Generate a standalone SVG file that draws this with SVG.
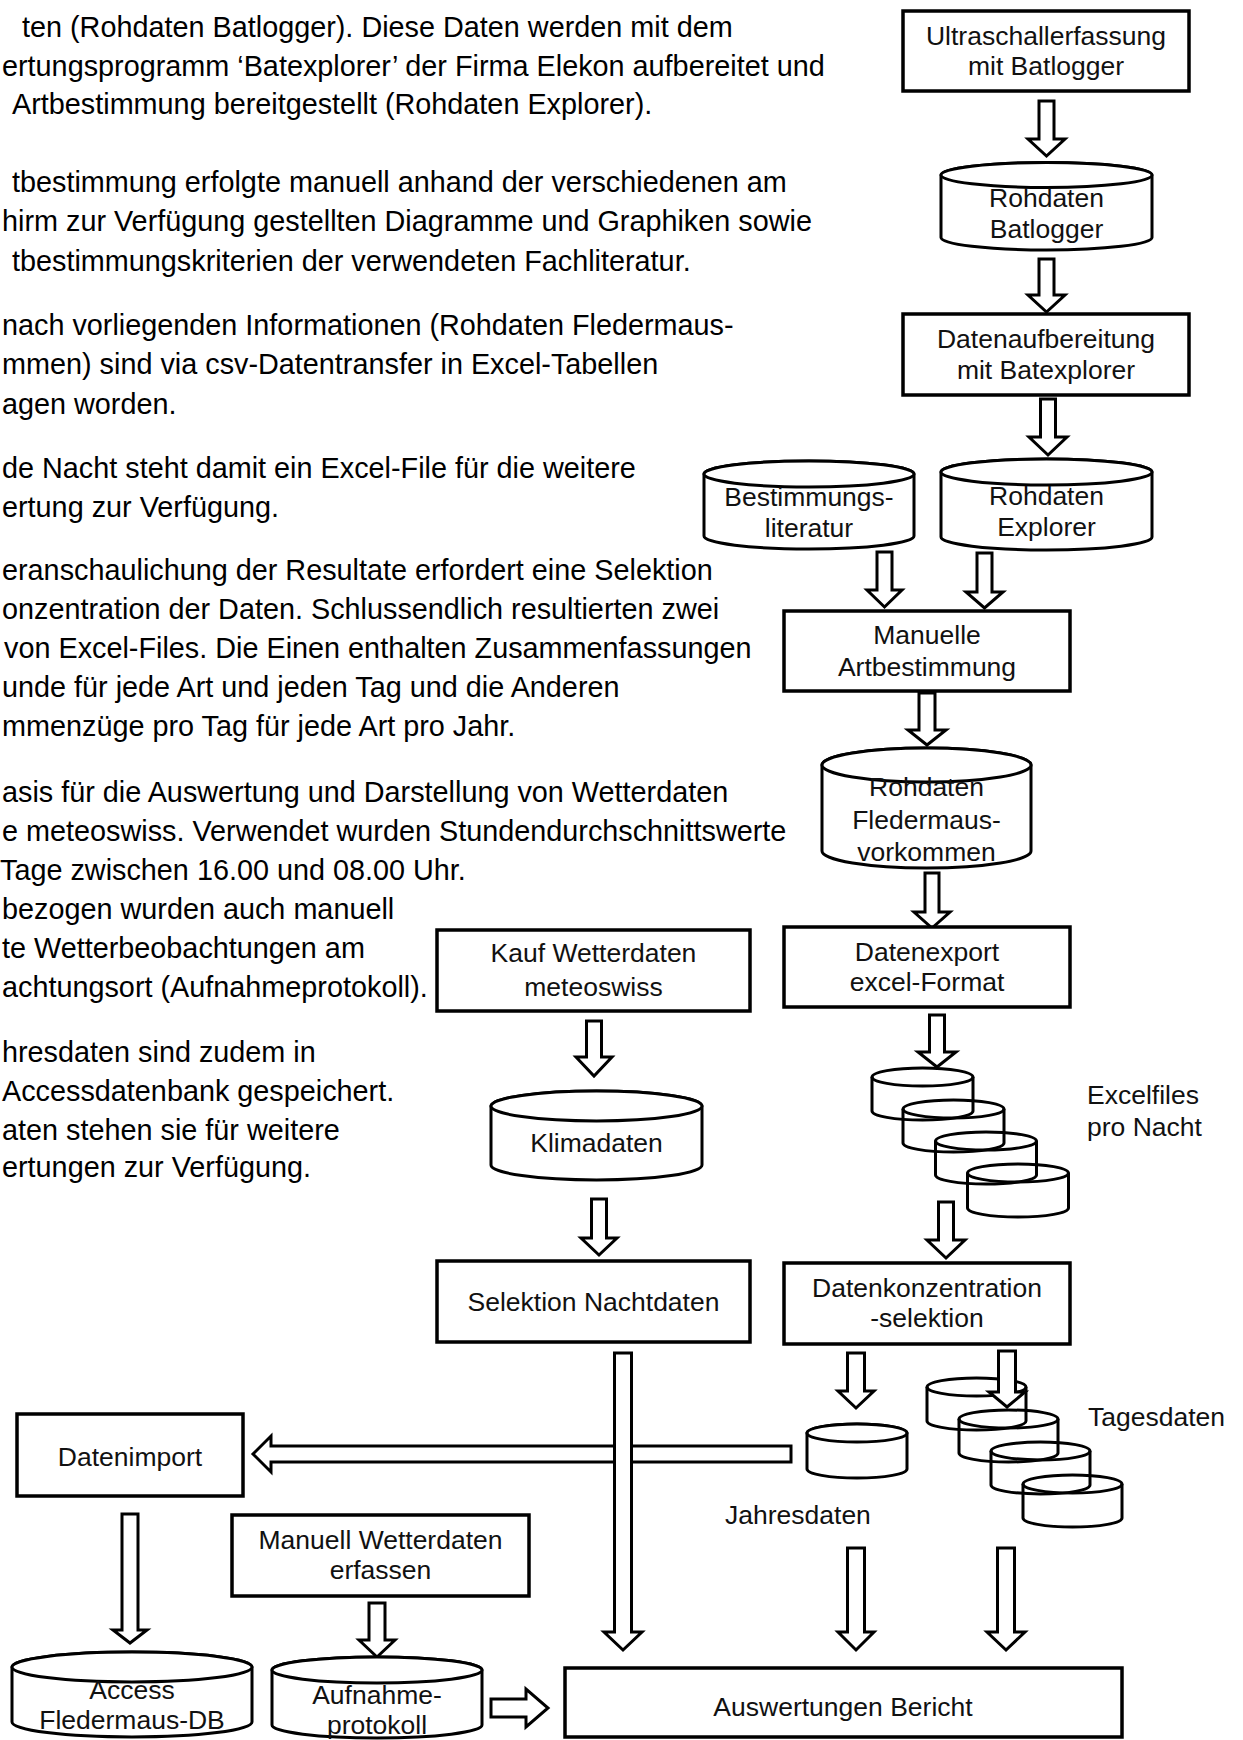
<svg xmlns="http://www.w3.org/2000/svg" width="1243" height="1740" viewBox="0 0 1243 1740">
<style>
.box{fill:#fff;stroke:#000;stroke-width:3.5}
.cyl{fill:#fff;stroke:#000;stroke-width:3}
.stk{fill:none;stroke:#000;stroke-width:3}
.arr{fill:#fff;stroke:#000;stroke-width:3;stroke-linejoin:miter}
.t{font-family:"Liberation Sans",Arial,sans-serif;font-size:26.5px;text-anchor:middle;fill:#111}
.l{font-family:"Liberation Sans",Arial,sans-serif;font-size:26.5px;fill:#111}
.p{font-family:"Liberation Sans",Arial,sans-serif;font-size:28.8px;fill:#000}
</style>
<rect width="1243" height="1740" fill="#fff"/>
<g id="description">
<text class="p" x="22" y="37">ten (Rohdaten Batlogger). Diese Daten werden mit dem</text>
<text class="p" x="2" y="76">ertungsprogramm ‘Batexplorer’ der Firma Elekon aufbereitet und</text>
<text class="p" x="12" y="114">Artbestimmung bereitgestellt (Rohdaten Explorer).</text>
<text class="p" x="12" y="192">tbestimmung erfolgte manuell anhand der verschiedenen am</text>
<text class="p" x="2" y="231">hirm zur Verfügung gestellten Diagramme und Graphiken sowie</text>
<text class="p" x="12" y="271">tbestimmungskriterien der verwendeten Fachliteratur.</text>
<text class="p" x="2" y="335">nach vorliegenden Informationen (Rohdaten Fledermaus-</text>
<text class="p" x="2" y="374">mmen) sind via csv-Datentransfer in Excel-Tabellen</text>
<text class="p" x="2" y="414">agen worden.</text>
<text class="p" x="2" y="478">de Nacht steht damit ein Excel-File für die weitere</text>
<text class="p" x="2" y="517">ertung zur Verfügung.</text>
<text class="p" x="2" y="580">eranschaulichung der Resultate erfordert eine Selektion</text>
<text class="p" x="2" y="619">onzentration der Daten. Schlussendlich resultierten zwei</text>
<text class="p" x="4" y="658">von Excel-Files. Die Einen enthalten Zusammenfassungen</text>
<text class="p" x="2" y="697">unde für jede Art und jeden Tag und die Anderen</text>
<text class="p" x="2" y="736">mmenzüge pro Tag für jede Art pro Jahr.</text>
<text class="p" x="2" y="802">asis für die Auswertung und Darstellung von Wetterdaten</text>
<text class="p" x="2" y="841">e meteoswiss. Verwendet wurden Stundendurchschnittswerte</text>
<text class="p" x="0" y="880">Tage zwischen 16.00 und 08.00 Uhr.</text>
<text class="p" x="2" y="919">bezogen wurden auch manuell</text>
<text class="p" x="2" y="958">te Wetterbeobachtungen am</text>
<text class="p" x="2" y="997">achtungsort (Aufnahmeprotokoll).</text>
<text class="p" x="2" y="1062">hresdaten sind zudem in</text>
<text class="p" x="2" y="1101">Accessdatenbank gespeichert.</text>
<text class="p" x="2" y="1140">aten stehen sie für weitere</text>
<text class="p" x="2" y="1177">ertungen zur Verfügung.</text>
</g>
<g id="connectors">
<polygon class="arr" points="1039,101 1054,101 1054,139 1065,139 1046.5,156 1028,139 1039,139"/>
<polygon class="arr" points="1039,259 1054,259 1054,295 1065,295 1046.5,312 1028,295 1039,295"/>
<polygon class="arr" points="1040.5,399 1055.5,399 1055.5,437 1067,437 1048,455 1029,437 1040.5,437"/>
<polygon class="arr" points="877,552 892,552 892,590 902,590 884.5,607 867,590 877,590"/>
<polygon class="arr" points="977,553 992,553 992,592 1003,592 984.5,608 966,592 977,592"/>
<polygon class="arr" points="919,693 935,693 935,730 946,730 927,745 908,730 919,730"/>
<polygon class="arr" points="925,873 939,873 939,912 950,912 932,928 914,912 925,912"/>
<polygon class="arr" points="929.5,1015 944.5,1015 944.5,1052 956,1052 937,1067 918,1052 929.5,1052"/>
<polygon class="arr" points="938.5,1202 953.5,1202 953.5,1240 965,1240 946,1258 927,1240 938.5,1240"/>
<polygon class="arr" points="586.5,1021 601.5,1021 601.5,1057 612,1057 594,1076 576,1057 586.5,1057"/>
<polygon class="arr" points="591.5,1199 606.5,1199 606.5,1238 617,1238 599,1255 581,1238 591.5,1238"/>
<polygon class="arr" points="791,1446 791,1462 271,1462 271,1472 253,1454 271,1436 271,1446"/>
<polygon class="arr" points="614.5,1353 631.5,1353 631.5,1632 642,1632 623,1650 604,1632 614.5,1632"/>
<polygon class="arr" points="847.5,1353 864.5,1353 864.5,1391 874,1391 856,1408 838,1391 847.5,1391"/>
<polygon class="arr" points="847.5,1548 864.5,1548 864.5,1632 874,1632 856,1650 838,1632 847.5,1632"/>
<polygon class="arr" points="997.5,1548 1014.5,1548 1014.5,1632 1025,1632 1006,1650 987,1632 997.5,1632"/>
<polygon class="arr" points="122,1514 138,1514 138,1630 147,1630 130,1643 113,1630 122,1630"/>
<polygon class="arr" points="369,1603 385,1603 385,1640 395,1640 377,1657 359,1640 369,1640"/>
<polygon class="arr" points="491,1699 526,1699 526,1689 548,1708 526,1727 526,1717 491,1717"/>
</g>
<g id="ultraschall">
<rect class="box" x="903" y="11" width="286" height="80"/>
<text class="t" x="1046" y="45">Ultraschallerfassung</text>
<text class="t" x="1046" y="75">mit Batlogger</text>
</g>
<g id="rohdaten-batlogger">
<path class="cyl" d="M941,175 V237.5 A105.5,12.5 0 0 0 1152,237.5 V175 A105.5,12.5 0 0 0 941,175 Z"/>
<ellipse class="cyl" cx="1046.5" cy="175" rx="105.5" ry="12.5"/>
<text class="t" x="1046.5" y="207">Rohdaten</text>
<text class="t" x="1046.5" y="238">Batlogger</text>
</g>
<g id="datenaufbereitung">
<rect class="box" x="903" y="314" width="286" height="81"/>
<text class="t" x="1046" y="348">Datenaufbereitung</text>
<text class="t" x="1046" y="379">mit Batexplorer</text>
</g>
<g id="bestimmungsliteratur">
<path class="cyl" d="M704,474 V536 A105,13 0 0 0 914,536 V474 A105,13 0 0 0 704,474 Z"/>
<ellipse class="cyl" cx="809" cy="474" rx="105" ry="13"/>
<text class="t" x="809" y="506">Bestimmungs-</text>
<text class="t" x="809" y="537">literatur</text>
</g>
<g id="rohdaten-explorer">
<path class="cyl" d="M941,472 V537 A105.5,13 0 0 0 1152,537 V472 A105.5,13 0 0 0 941,472 Z"/>
<ellipse class="cyl" cx="1046.5" cy="472" rx="105.5" ry="13"/>
<text class="t" x="1046.5" y="505">Rohdaten</text>
<text class="t" x="1046.5" y="536">Explorer</text>
</g>
<g id="manuelle-artbestimmung">
<rect class="box" x="784" y="611" width="286" height="80"/>
<text class="t" x="927" y="644">Manuelle</text>
<text class="t" x="927" y="676">Artbestimmung</text>
</g>
<g id="rohdaten-fledermaus">
<path class="cyl" d="M822,765 V851 A104.5,17 0 0 0 1031,851 V765 A104.5,17 0 0 0 822,765 Z"/>
<ellipse class="cyl" cx="926.5" cy="765" rx="104.5" ry="17"/>
<text class="t" x="926.5" y="796">Rohdaten</text>
<text class="t" x="926.5" y="829">Fledermaus-</text>
<text class="t" x="926.5" y="861">vorkommen</text>
</g>
<g id="datenexport">
<rect class="box" x="784" y="927" width="286" height="80"/>
<text class="t" x="927" y="961">Datenexport</text>
<text class="t" x="927" y="991">excel-Format</text>
</g>
<g id="excelfiles">
<path class="stk" d="M872,1077 V1111 A50.5,9 0 0 0 973,1111 V1077"/>
<ellipse class="stk" cx="922.5" cy="1077" rx="50.5" ry="9"/>
<path class="stk" d="M903,1109 V1143 A50.5,9 0 0 0 1004,1143 V1109"/>
<ellipse class="stk" cx="953.5" cy="1109" rx="50.5" ry="9"/>
<path class="stk" d="M935.5,1141 V1175 A50.5,9 0 0 0 1036.5,1175 V1141"/>
<ellipse class="stk" cx="986" cy="1141" rx="50.5" ry="9"/>
<path class="stk" d="M967.5,1173 V1208 A50.5,9 0 0 0 1068.5,1208 V1173"/>
<ellipse class="stk" cx="1018" cy="1173" rx="50.5" ry="9"/>
<text class="l" x="1087" y="1104">Excelfiles</text>
<text class="l" x="1087" y="1136">pro Nacht</text>
</g>
<g id="kauf-wetterdaten">
<rect class="box" x="437" y="930" width="313" height="81"/>
<text class="t" x="593.5" y="962">Kauf Wetterdaten</text>
<text class="t" x="593.5" y="996">meteoswiss</text>
</g>
<g id="klimadaten">
<path class="cyl" d="M491,1106 V1165 A105.5,15 0 0 0 702,1165 V1106 A105.5,15 0 0 0 491,1106 Z"/>
<ellipse class="cyl" cx="596.5" cy="1106" rx="105.5" ry="15"/>
<text class="t" x="596.5" y="1152">Klimadaten</text>
</g>
<g id="selektion-nachtdaten">
<rect class="box" x="437" y="1261" width="313" height="81"/>
<text class="t" x="593.5" y="1311">Selektion Nachtdaten</text>
</g>
<g id="datenkonzentration">
<rect class="box" x="784" y="1263" width="286" height="81"/>
<text class="t" x="927" y="1297">Datenkonzentration</text>
<text class="t" x="927" y="1327">-selektion</text>
</g>
<g id="jahresdaten">
<path class="cyl" d="M807,1433 V1469 A50,9 0 0 0 907,1469 V1433 A50,9 0 0 0 807,1433 Z"/>
<ellipse class="cyl" cx="857" cy="1433" rx="50" ry="9"/>
<text class="l" x="725" y="1524">Jahresdaten</text>
</g>
<g id="tagesdaten">
<path class="stk" d="M927,1387 V1421 A49.5,9 0 0 0 1026,1421 V1387"/>
<ellipse class="stk" cx="976.5" cy="1387" rx="49.5" ry="9"/>
<path class="stk" d="M959,1419 V1453 A49.5,9 0 0 0 1058,1453 V1419"/>
<ellipse class="stk" cx="1008.5" cy="1419" rx="49.5" ry="9"/>
<path class="stk" d="M991,1451 V1485 A49.5,9 0 0 0 1090,1485 V1451"/>
<ellipse class="stk" cx="1040.5" cy="1451" rx="49.5" ry="9"/>
<path class="stk" d="M1023,1484 V1518 A49.5,9 0 0 0 1122,1518 V1484"/>
<ellipse class="stk" cx="1072.5" cy="1484" rx="49.5" ry="9"/>
<text class="l" x="1088" y="1426">Tagesdaten</text>
</g>
<polygon class="arr" points="998.5,1351 1015.5,1351 1015.5,1392 1025,1392 1007,1407 989,1392 998.5,1392"/>
<g id="datenimport">
<rect class="box" x="17" y="1414" width="226" height="82"/>
<text class="t" x="130" y="1466">Datenimport</text>
</g>
<g id="manuell-wetterdaten">
<rect class="box" x="232" y="1515" width="297" height="81"/>
<text class="t" x="380.5" y="1549">Manuell Wetterdaten</text>
<text class="t" x="380.5" y="1579">erfassen</text>
</g>
<g id="access-db">
<path class="cyl" d="M12,1667 V1722 A120,15 0 0 0 252,1722 V1667 A120,15 0 0 0 12,1667 Z"/>
<ellipse class="cyl" cx="132" cy="1667" rx="120" ry="15"/>
<text class="t" x="132" y="1699">Access</text>
<text class="t" x="132" y="1729">Fledermaus-DB</text>
</g>
<g id="aufnahmeprotokoll">
<path class="cyl" d="M272,1670 V1725 A105,13 0 0 0 482,1725 V1670 A105,13 0 0 0 272,1670 Z"/>
<ellipse class="cyl" cx="377" cy="1670" rx="105" ry="13"/>
<text class="t" x="377" y="1704">Aufnahme-</text>
<text class="t" x="377" y="1734">protokoll</text>
</g>
<g id="auswertungen">
<rect class="box" x="565" y="1668" width="557" height="69"/>
<text class="t" x="843" y="1716">Auswertungen Bericht</text>
</g>
</svg>
